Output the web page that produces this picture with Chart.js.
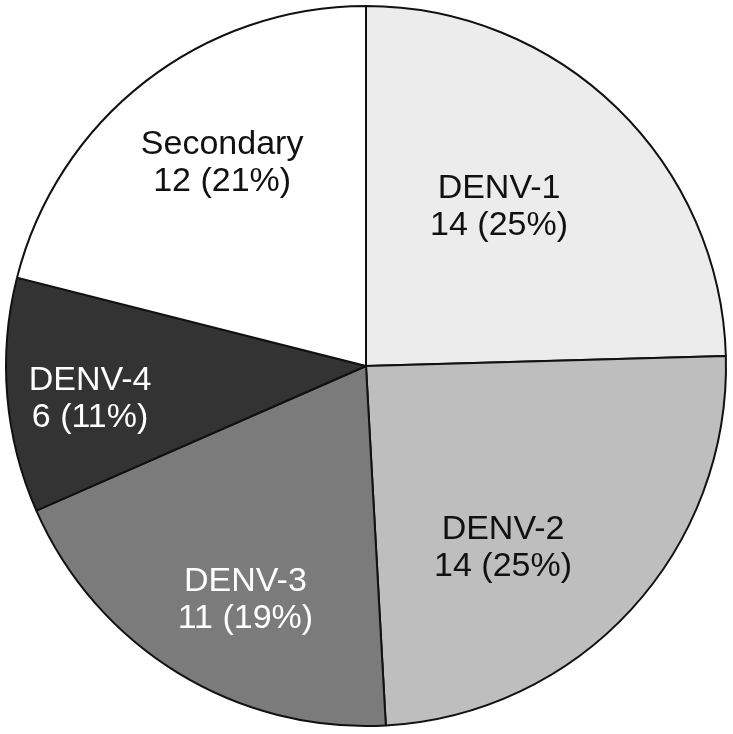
<!DOCTYPE html>
<html>
<head>
<meta charset="utf-8">
<script src="https://cdn.jsdelivr.net/npm/chart.js@4/dist/chart.umd.min.js"></script>
<style>
  html, body { margin: 0; padding: 0; background: #fff; }
  #wrap { width: 733px; height: 734px; }
</style>
</head>
<body>
<div id="wrap"><canvas id="myChart" width="733" height="734"></canvas></div>
<script>
// data
const categories = ['DENV-1', 'DENV-2', 'DENV-3', 'DENV-4', 'Secondary'];
const counts = [14, 14, 11, 6, 12];
const percents = [25, 25, 19, 11, 21];

const sliceColors = ['#ececec', '#bebebe', '#7b7b7b', '#333333', '#ffffff'];
const labelColors = ['#111', '#111', '#fff', '#fff', '#111'];
// label placement: distance (fraction of radius) and angle nudge (deg) from slice middle
const labelDist = [0.576, 0.633, 0.731, 0.772, 0.69];
const labelTurn = [-4.3, 10.4, -4.3, -2.1, 2.5];

const sliceLabels = {
    id: 'sliceLabels',
    afterDatasetsDraw(chart) {
        const ctx = chart.ctx;
        const arcs = chart.getDatasetMeta(0).data;
        ctx.save();
        ctx.font = '34px "Liberation Sans", Arial, sans-serif';
        ctx.textAlign = 'center';
        ctx.textBaseline = 'middle';
        arcs.forEach((arc, i) => {
            const p = arc.getProps(['x', 'y', 'startAngle', 'endAngle', 'outerRadius']);
            const mid = (p.startAngle + p.endAngle) / 2 + labelTurn[i] * Math.PI / 180;
            const r = p.outerRadius * labelDist[i];
            const x = p.x + Math.cos(mid) * r;
            const y = p.y + Math.sin(mid) * r;
            ctx.fillStyle = labelColors[i];
            ctx.fillText(categories[i], x, y - 18.5);
            ctx.fillText(counts[i] + ' (' + percents[i] + '%)', x, y + 18.5);
        });
        ctx.restore();
    }
};

const ctx = document.getElementById('myChart').getContext('2d');
new Chart(ctx, {
    type: 'pie',
    data: {
        labels: categories,
        datasets: [{
            data: counts,
            backgroundColor: sliceColors,
            borderColor: '#111',
            borderWidth: 2
        }]
    },
    options: {
        responsive: false,
        animation: false,
        layout: { padding: { left: 5, right: 6, top: 4, bottom: 6 } },
        plugins: {
            legend: { display: false },
            tooltip: { enabled: false }
        }
    },
    plugins: [sliceLabels]
});
</script>
</body>
</html>
